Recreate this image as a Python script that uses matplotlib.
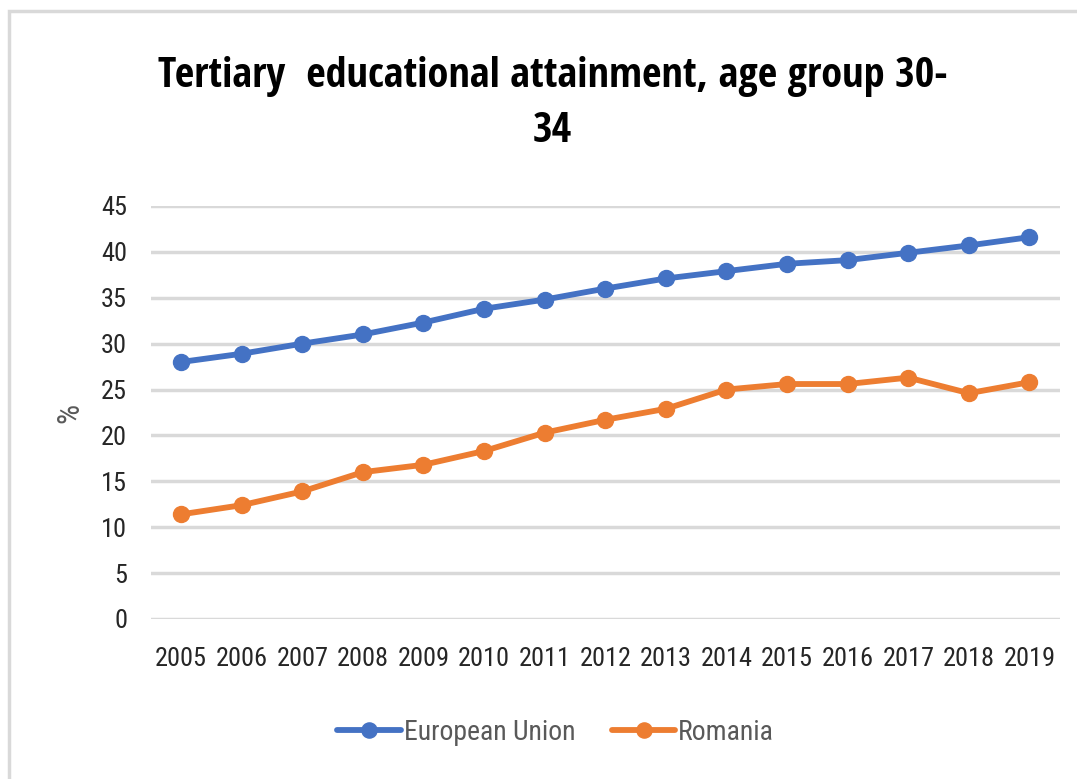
import matplotlib.pyplot as plt
from matplotlib.patches import Rectangle

# Dados do gráfico
years = ['2005', '2006', '2007', '2008', '2009', '2010', '2011', '2012',
         '2013', '2014', '2015', '2016', '2017', '2018', '2019']
eu = [28.0, 28.9, 30.0, 31.0, 32.3, 33.8, 34.8, 36.0, 37.1, 37.9, 38.7,
      39.1, 39.9, 40.7, 41.6]
romania = [11.4, 12.4, 13.9, 16.0, 16.8, 18.3, 20.3, 21.7, 22.9, 25.0, 25.6,
           25.6, 26.3, 24.6, 25.8]
y_ticks = [0, 5, 10, 15, 20, 25, 30, 35, 40, 45]

body_font = ['Roboto Condensed', 'Liberation Sans', 'DejaVu Sans']
title_font = ['Open Sans Condensed', 'Liberation Sans', 'DejaVu Sans']
plt.rcParams['font.family'] = body_font

fig = plt.figure(figsize=(10.77, 7.79), dpi=100)
ax = fig.add_axes([0.140, 0.2054, 0.844, 0.5302])

# Moldura cinza do gráfico
fig.patches.append(Rectangle((9 / 1077, -0.1), 1.2, 1.1 - 11 / 779,
                             transform=fig.transFigure, fill=False,
                             edgecolor='#d9d9d9', linewidth=2.5))

x = range(len(years))
ax.plot(x, eu, color='#4472c4', linewidth=4.2, marker='o', markersize=11.5,
        label='European Union', solid_capstyle='round')
ax.plot(x, romania, color='#ed7d31', linewidth=4.2, marker='o', markersize=11.5,
        label='Romania', solid_capstyle='round')

ax.set_xlim(-0.5, len(years) - 0.5)
ax.set_ylim(0, 45)
ax.set_yticks(y_ticks)
ax.set_xticks(list(x))
ax.set_xticklabels(years)
ax.grid(axis='y', color='#d9d9d9', linewidth=2.5)
ax.set_axisbelow(True)
for s in ax.spines.values():
    s.set_visible(False)
ax.tick_params(axis='both', length=0, labelsize=19, labelcolor='#262626')
ax.tick_params(axis='x', pad=20)
ax.tick_params(axis='y', pad=17)

ax.set_ylabel('%', fontsize=23, color='#595959', labelpad=12)

fig.text(0.513, 0.866, 'Tertiary  educational attainment, age group 30-\n34',
         ha='center', va='center', fontsize=30.5, fontweight='bold',
         family=title_font, linespacing=1.45)

leg = ax.legend(loc='center', bbox_to_anchor=(0.4455, -0.274), ncol=2,
                frameon=False, fontsize=20, handlelength=2.3,
                handletextpad=0.1, columnspacing=1.3, markerscale=0.95)
for t in leg.get_texts():
    t.set_color('#595959')

plt.savefig('out.png', dpi=100)
